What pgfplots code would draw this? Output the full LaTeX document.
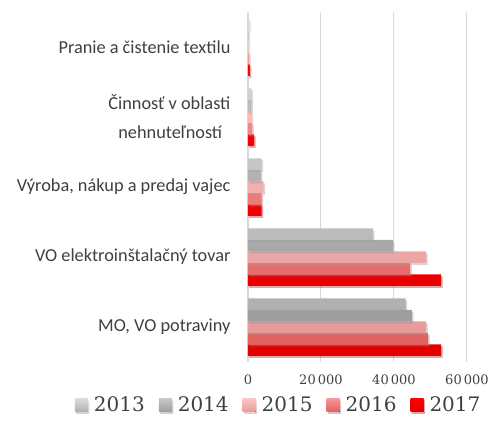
\documentclass[border=0pt]{standalone}
\usepackage{fontspec}
\setmainfont{Carlito}
\newfontfamily\numfont{DejaVu Serif}
\usepackage{pgfplots}
\pgfplotsset{compat=1.18}
\usetikzlibrary{shadows}
\definecolor{labgray}{HTML}{404040}
\definecolor{gridgray}{HTML}{D9D9D9}
\begin{document}
\begin{tikzpicture}
\path[use as bounding box] (-248pt,-78pt) rectangle (246pt,362pt);
\begin{axis}[
  at={(0pt,0pt)}, anchor=south west,
  scale only axis, width=219pt, height=350pt,
  xbar=0pt, bar width=11.5pt,
  xmin=0, xmax=60000,
  ymin=-0.5, ymax=4.5, y dir=reverse,
  ytick={0,1,2,3,4},
  yticklabels={Pranie a čistenie textilu,{Činnosť v oblasti\\nehnuteľností\ \ \ },{Výroba, nákup a predaj vajec},VO elektroinštalačný tovar,{MO, VO potraviny}},
  yticklabel style={font=\fontsize{18.3}{29}\selectfont, text=labgray, align=right, xshift=-14pt},
  xtick={0,20000,40000,60000},
  xticklabels={0,20\,000,40\,000,60\,000},
  scaled x ticks=false,
  xticklabel style={font=\numfont\fontsize{13}{15}\selectfont, text=labgray, yshift=-9pt},
  major tick length=0pt,
  axis x line*=bottom, axis y line*=left,
  x axis line style={draw=none},
  y axis line style={draw=gridgray, line width=1.2pt},
  xmajorgrids, grid style={draw=gridgray, line width=1pt},
  ytick style={draw=none},
  reverse legend,
  legend style={at={(0.14,-0.088)}, anchor=north, draw=none, fill=none,
    legend columns=5, font=\numfont\fontsize{20}{22}\selectfont, text=labgray,
    /tikz/every even column/.append style={column sep=12pt},
    /tikz/every odd column/.append style={column sep=4pt}},
  legend image code/.code={\fill[#1] (0pt,-6.5pt) rectangle (13pt,6.5pt);},
  every axis plot/.append style={draw=none, drop shadow={shadow xshift=1.5pt, shadow yshift=-2pt, opacity=0.25}},
]
\addplot[top color={rgb,255:red,255;green,0;blue,0}, bottom color={rgb,255:red,228;green,0;blue,0}] coordinates {(500,0) (1700,1) (3700,2) (52900,3) (52900,4)};
\addplot[top color={rgb,255:red,246;green,150;blue,150}, bottom color={rgb,255:red,226;green,96;blue,96}] coordinates {(300,0) (1100,1) (3700,2) (44400,3) (49300,4)};
\addplot[top color={rgb,255:red,255;green,196;blue,196}, bottom color={rgb,255:red,230;green,155;blue,155}] coordinates {(200,0) (1000,1) (4300,2) (48800,3) (48800,4)};
\addplot[top color=black!22, bottom color=black!38] coordinates {(200,0) (900,1) (3500,2) (39700,3) (44900,4)};
\addplot[top color=black!14, bottom color=black!31] coordinates {(300,0) (900,1) (3700,2) (34200,3) (43200,4)};
\legend{2017,2016,2015,2014,2013}
\end{axis}
\end{tikzpicture}
\end{document}
